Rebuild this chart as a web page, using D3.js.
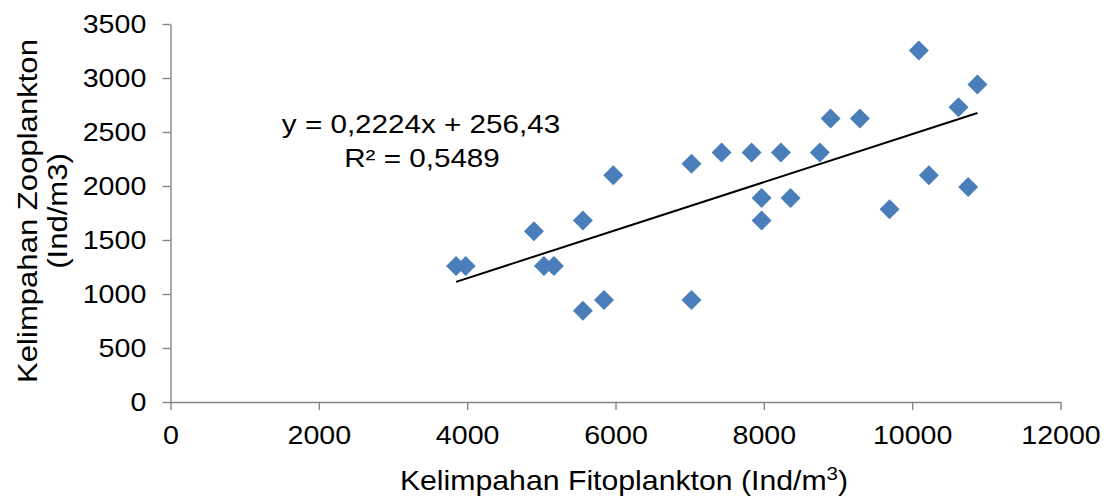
<!DOCTYPE html>
<html lang="en">
<head>
<meta charset="utf-8">
<title>Fitoplankton vs Zooplankton</title>
<script src="https://cdn.jsdelivr.net/npm/d3@7"></script>
<style>
  body { margin: 0; background: #fff; }
  text { font-family: "Liberation Sans", Arial, sans-serif; fill: #000; }
</style>
</head>
<body>
<script>
var fito = [3850, 3980, 4900, 5035, 5170, 5560, 5970, 5560, 5845, 7025, 7025, 7430, 7835, 8230, 8755,
            8900, 9295, 10090, 10880, 10625, 7970, 8360, 7970, 9695, 10225, 10755];
var zoo  = [1260, 1260, 1580, 1260, 1260, 1680, 2100, 845, 945, 945, 2205, 2310, 2310, 2310, 2310,
            2625, 2625, 3255, 2940, 2730, 1890, 1890, 1680, 1785, 2100, 1990];
var xTicks = [0, 2000, 4000, 6000, 8000, 10000, 12000];
var yTicks = [0, 500, 1000, 1500, 2000, 2500, 3000, 3500];
var slope = 0.2224, intercept = 256.43;
var eqLabel = "y = 0,2224x + 256,43";
var r2Label = "R² = 0,5489";

var w = 1113, h = 497;
var mLeft = 170.5, mRight = 1060.5, mTop = 24, mBottom = 402;
var fs = 26;

var data = fito.map(function (d, i) { return { x: d, y: zoo[i] }; });

var svg = d3.select("body").append("svg")
  .attr("width", w)
  .attr("height", h);

var xScale = d3.scaleLinear().domain([0, 12000]).range([mLeft, mRight]);
var yScale = d3.scaleLinear().domain([0, 3500]).range([mBottom, mTop]);

var xAxis = d3.axisBottom(xScale).tickValues(xTicks).tickSizeInner(8).tickSizeOuter(0).tickPadding(14)
  .tickFormat(d3.format("d"));
var yAxis = d3.axisLeft(yScale).tickValues(yTicks).tickSizeInner(8).tickSizeOuter(0).tickPadding(14)
  .tickFormat(d3.format("d"));

var gx = svg.append("g").attr("transform", "translate(0," + mBottom + ")").call(xAxis);
var gy = svg.append("g").attr("transform", "translate(" + mLeft + ",0)").call(yAxis);

[gx, gy].forEach(function (g) {
  g.selectAll("path, line").attr("stroke", "#868686").attr("stroke-width", 1.4);
  g.selectAll("text").attr("font-size", fs).attr("fill", "#000")
    .attr("transform", "scale(1.1,1)")
    .style("font-family", "'Liberation Sans', Arial, sans-serif");
});
gx.selectAll("text").attr("dy", "0.78em");

// text that is a bit wider than the font gives
function label(x, y, size, sx, rot) {
  return svg.append("text")
    .attr("transform", "translate(" + x + "," + y + ")" + (rot ? " rotate(" + rot + ")" : "") + " scale(" + sx + ",1)")
    .attr("text-anchor", "middle")
    .attr("font-size", size);
}

// trend line
var xMin = d3.min(fito), xMax = d3.max(fito);
svg.append("line")
  .attr("x1", xScale(xMin)).attr("y1", yScale(slope * xMin + intercept))
  .attr("x2", xScale(xMax)).attr("y2", yScale(slope * xMax + intercept))
  .attr("stroke", "#000").attr("stroke-width", 2);

// diamonds
var diamond = d3.symbol().type(d3.symbolSquare).size(200);
svg.selectAll("path.pt")
  .data(data)
  .enter()
  .append("path")
  .attr("class", "pt")
  .attr("d", diamond)
  .attr("transform", function (d) {
    return "translate(" + xScale(d.x) + "," + yScale(d.y) + ") rotate(45)";
  })
  .attr("fill", "#4a7ebb");

// equation
label(421, 133, fs, 1.14).text(eqLabel);
label(422, 167, fs, 1.14).text(r2Label);

// axis titles
var xt = label(624, 490, 28, 1.08);
xt.append("tspan").text("Kelimpahan Fitoplankton (Ind/m");
xt.append("tspan").attr("font-size", 19).attr("dy", -10).text("3");
xt.append("tspan").attr("dy", 10).text(")");

label(37, 211, 28, 1.11, -90).text("Kelimpahan Zooplankton");
label(67, 211, 28, 1.11, -90).text("(Ind/m3)");
</script>
</body>
</html>
